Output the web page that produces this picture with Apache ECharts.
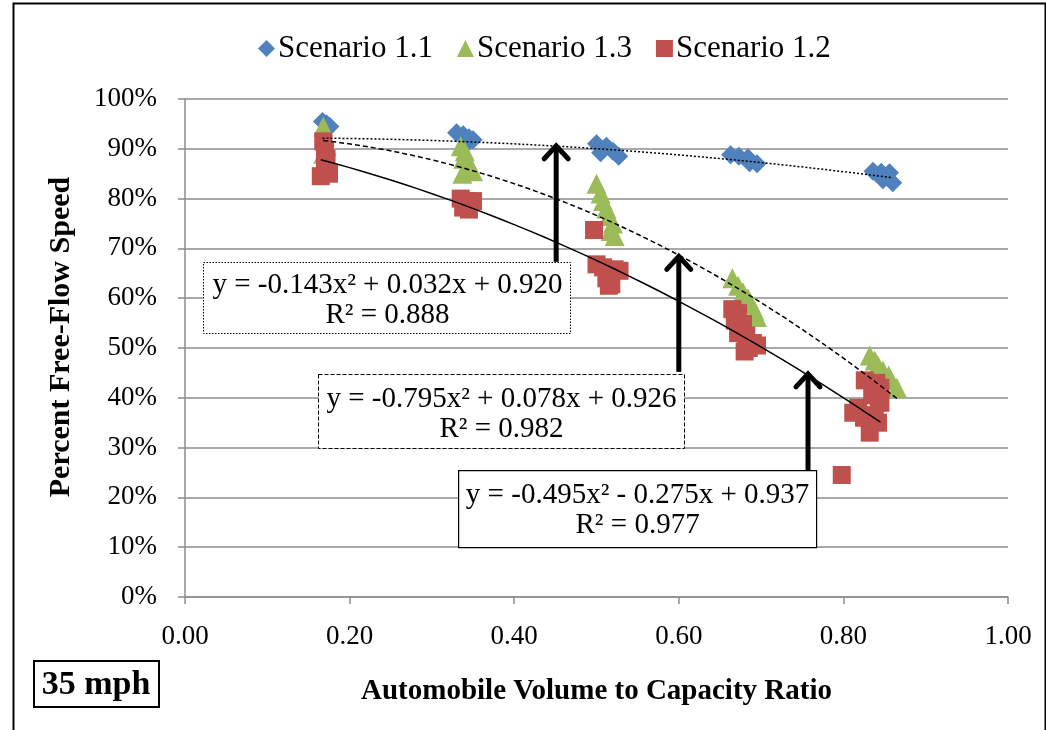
<!DOCTYPE html>
<html>
<head>
<meta charset="utf-8">
<script src="https://cdn.jsdelivr.net/npm/echarts@6/dist/echarts.min.js"></script>
<style>
html,body{margin:0;padding:0;background:#fff;}
#chart{width:1046px;height:730px;}
</style>
</head>
<body>
<div id="chart"></div>
<script>
// ---- data ----
var seriesNames = ['Scenario 1.1', 'Scenario 1.3', 'Scenario 1.2'];
var s11 = [
  [0.167,0.955],[0.172,0.950],[0.176,0.945],
  [0.330,0.932],[0.338,0.928],[0.345,0.922],[0.350,0.918],[0.343,0.912],
  [0.500,0.910],[0.512,0.905],[0.505,0.892],[0.520,0.895],[0.527,0.885],
  [0.663,0.888],[0.673,0.885],[0.684,0.882],[0.686,0.872],[0.695,0.870],
  [0.836,0.855],[0.846,0.853],[0.856,0.852],[0.852,0.845],[0.848,0.838],[0.860,0.832]
];
var s13 = [
  [0.168,0.945],[0.170,0.925],[0.172,0.905],[0.168,0.890],[0.173,0.875],
  [0.335,0.905],[0.340,0.895],[0.338,0.880],[0.345,0.870],[0.342,0.860],[0.350,0.855],[0.337,0.850],
  [0.500,0.830],[0.505,0.810],[0.508,0.795],[0.512,0.780],[0.515,0.765],[0.520,0.750],[0.517,0.735],[0.522,0.725],
  [0.665,0.640],[0.672,0.625],[0.678,0.612],[0.684,0.600],[0.688,0.588],[0.692,0.575],[0.695,0.562],
  [0.832,0.485],[0.838,0.475],[0.842,0.465],[0.848,0.455],[0.855,0.445],[0.858,0.435],[0.865,0.420]
];
var s12 = [
  [0.168,0.915],[0.170,0.895],[0.172,0.880],[0.170,0.865],[0.175,0.850],[0.165,0.845],
  [0.335,0.800],[0.342,0.795],[0.350,0.795],[0.338,0.782],[0.345,0.778],
  [0.497,0.737],[0.500,0.668],[0.508,0.662],[0.515,0.655],[0.522,0.658],[0.528,0.655],[0.512,0.640],[0.518,0.628],[0.515,0.625],
  [0.665,0.578],[0.672,0.570],[0.668,0.555],[0.678,0.548],[0.672,0.530],[0.682,0.525],[0.690,0.510],[0.685,0.500],[0.695,0.505],[0.680,0.493],
  [0.826,0.435],[0.840,0.430],[0.845,0.420],[0.835,0.405],[0.843,0.400],[0.818,0.380],[0.845,0.390],[0.812,0.370],[0.825,0.360],[0.838,0.365],[0.842,0.350],[0.832,0.330],[0.798,0.245]
];
// polynomial trendline coefficients [a (x^2), b (x), c]
var trend11 = [-0.143, 0.032, 0.920];
var trend13 = [-0.795, 0.078, 0.926];
var trend12 = [-0.495, -0.275, 0.937];
var eqText = [
  ['y = -0.143x\u00B2 + 0.032x + 0.920', 'R\u00B2 = 0.888'],
  ['y = -0.795x\u00B2 + 0.078x + 0.926', 'R\u00B2 = 0.982'],
  ['y = -0.495x\u00B2 - 0.275x + 0.937', 'R\u00B2 = 0.977']
];
// arrows: [x, yStart, yEnd]
var arrows = [[0.451, 0.673, 0.910], [0.600, 0.452, 0.688], [0.757, 0.255, 0.452]];
var speedLabel = '35 mph';

// ---- build ----
function trendPts(coef, pts) {
  var xs = pts.map(function (p) { return p[0]; });
  var lo = Math.min.apply(null, xs), hi = Math.max.apply(null, xs);
  var out = [];
  var n = 40;
  for (var i = 0; i <= n; i++) {
    var x = lo + (hi - lo) * i / n;
    out.push([x, coef[0] * x * x + coef[1] * x + coef[2]]);
  }
  return out;
}
var serif = '"Liberation Serif", "Times New Roman", serif';
var gridColor = '#8c8c8c';

var chart = echarts.init(document.getElementById('chart'));
var option = {
  animation: false,
  backgroundColor: '#fff',
  textStyle: { fontFamily: serif },
  grid: { left: 185, right: 38, top: 99, bottom: 133 },
  legend: {
    top: 28, left: 253,
    itemWidth: 17, itemHeight: 17, itemGap: 24,
    textStyle: { fontFamily: serif, fontSize: 31, color: '#000', padding: [0, 0, 0, -2] },
    data: [
      { name: seriesNames[0], icon: 'diamond' },
      { name: seriesNames[1], icon: 'triangle' },
      { name: seriesNames[2], icon: 'rect' }
    ]
  },
  xAxis: {
    type: 'value', min: 0, max: 1, interval: 0.2,
    axisLine: { show: true, lineStyle: { color: gridColor, width: 1.5 } },
    axisTick: { show: true, inside: false, length: 7, lineStyle: { color: gridColor, width: 1.5 } },
    splitLine: { show: false },
    axisLabel: { fontFamily: serif, fontSize: 27, color: '#000', margin: 26,
      formatter: function (v) { return v.toFixed(2); } },
    name: 'Automobile Volume to Capacity Ratio', nameLocation: 'middle', nameGap: 80,
    nameTextStyle: { fontFamily: serif, fontSize: 29, fontWeight: 'bold', color: '#000' }
  },
  yAxis: {
    type: 'value', min: 0, max: 1, interval: 0.1,
    axisLine: { show: true, lineStyle: { color: gridColor, width: 1.5 } },
    axisTick: { show: true, inside: false, length: 7, lineStyle: { color: gridColor, width: 1.5 } },
    splitLine: { show: true, lineStyle: { color: gridColor, width: 1.5 } },
    axisLabel: { fontFamily: serif, fontSize: 27, color: '#000', margin: 28,
      formatter: function (v) { return Math.round(v * 100) + '%'; } },
    name: 'Percent Free-Flow Speed', nameLocation: 'middle', nameGap: 109,
    nameTextStyle: { fontFamily: serif, fontSize: 30, fontWeight: 'bold', color: '#000', padding: [0, 0, 0, 22] }
  },
  series: [
    { name: seriesNames[0], type: 'scatter', data: s11, symbol: 'diamond', symbolSize: 19,
      itemStyle: { color: '#4F81BD', opacity: 1 }, z: 2 },
    { name: seriesNames[1], type: 'scatter', data: s13, symbol: 'triangle', symbolSize: 20,
      itemStyle: { color: '#9BBB59', opacity: 1 }, z: 3 },
    { name: seriesNames[2], type: 'scatter', data: s12, symbol: 'rect', symbolSize: 18,
      itemStyle: { color: '#C0504D', opacity: 1 }, z: 4 },
    { type: 'line', data: trendPts(trend11, s11), showSymbol: false, symbol: 'none', smooth: false,
      lineStyle: { color: '#000', width: 1.5, type: [2, 2] }, z: 5, silent: true },
    { type: 'line', data: trendPts(trend13, s13), showSymbol: false, symbol: 'none',
      lineStyle: { color: '#000', width: 1.5, type: [5, 3] }, z: 5, silent: true },
    { type: 'line', data: trendPts(trend12, s12), showSymbol: false, symbol: 'none',
      lineStyle: { color: '#000', width: 1.5 }, z: 5, silent: true },
    { type: 'custom', data: arrows, z: 6, silent: true,
      renderItem: function (params, api) {
        var p0 = api.coord([api.value(0), api.value(1)]);
        var p1 = api.coord([api.value(0), api.value(2)]);
        return {
          type: 'group',
          children: [
            { type: 'line', shape: { x1: p0[0], y1: p0[1], x2: p1[0], y2: p1[1] + 3 },
              style: { stroke: '#000', lineWidth: 5 } },
            { type: 'polyline', shape: { points: [[p1[0] - 12, p1[1] + 15], [p1[0], p1[1] + 2], [p1[0] + 12, p1[1] + 15]] },
              style: { stroke: '#000', lineWidth: 5, fill: null, lineJoin: 'miter', lineCap: 'round' } }
          ]
        };
      }
    }
  ],
  graphic: [
    { type: 'rect', left: 11, top: 1, z: 100, shape: { width: 1032, height: 740 },
      style: { fill: null, stroke: '#000', lineWidth: 2 }, silent: true },
    { type: 'group', left: 203, top: 262, z: 100, children: [
      { type: 'rect', z: 100, shape: { x: 0, y: 0, width: 367, height: 71 },
        style: { fill: '#fff', stroke: '#000', lineWidth: 1, lineDash: [1.5, 1.5] } },
      { type: 'text', z: 101, x: 184, y: 38, style: { text: eqText[0][0] + '\n' + eqText[0][1],
        font: '29px ' + serif, fill: '#000', lineHeight: 30, textAlign: 'center', textVerticalAlign: 'middle' } }
    ] },
    { type: 'group', left: 318, top: 374, z: 100, children: [
      { type: 'rect', z: 100, shape: { x: 0, y: 0, width: 366, height: 74 },
        style: { fill: '#fff', stroke: '#000', lineWidth: 1, lineDash: [4, 2] } },
      { type: 'text', z: 101, x: 183, y: 40, style: { text: eqText[1][0] + '\n' + eqText[1][1],
        font: '29px ' + serif, fill: '#000', lineHeight: 30, textAlign: 'center', textVerticalAlign: 'middle' } }
    ] },
    { type: 'group', left: 458, top: 470, z: 100, children: [
      { type: 'rect', z: 100, shape: { x: 0, y: 0, width: 358, height: 77 },
        style: { fill: '#fff', stroke: '#000', lineWidth: 1.2 } },
      { type: 'text', z: 101, x: 179, y: 40, style: { text: eqText[2][0] + '\n' + eqText[2][1],
        font: '29px ' + serif, fill: '#000', lineHeight: 30, textAlign: 'center', textVerticalAlign: 'middle' } }
    ] },
    { type: 'group', left: 33, top: 660, z: 100, children: [
      { type: 'rect', z: 100, shape: { x: 0, y: 0, width: 125, height: 46 },
        style: { fill: '#fff', stroke: '#000', lineWidth: 2 } },
      { type: 'text', z: 101, x: 62, y: 24, style: { text: speedLabel,
        font: 'bold 34px ' + serif, fill: '#000', textAlign: 'center', textVerticalAlign: 'middle' } }
    ] }
  ]
};
chart.setOption(option);
</script>
</body>
</html>
